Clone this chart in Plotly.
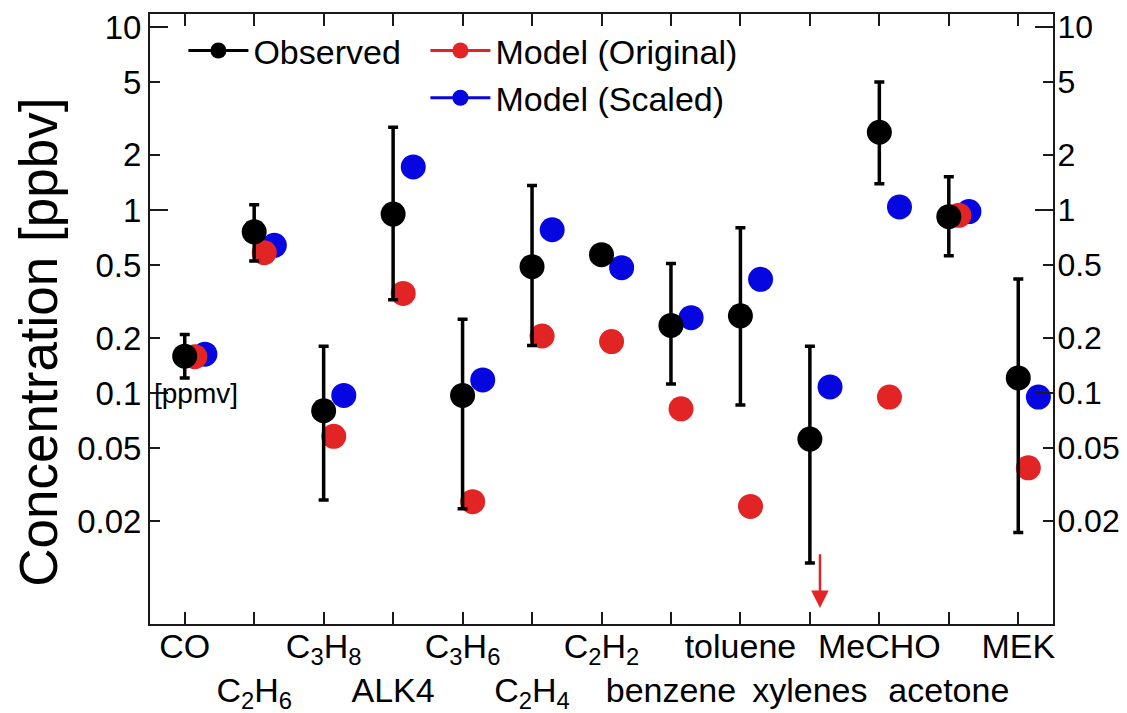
import math
import plotly.graph_objects as go

# ---------------- data ----------------
categories = ["CO", "C2H6", "C3H8", "ALK4", "C3H6", "C2H4", "C2H2",
              "benzene", "toluene", "xylenes", "MeCHO", "acetone", "MEK"]
tick_labels = ["CO", "C<sub>2</sub>H<sub>6</sub>", "C<sub>3</sub>H<sub>8</sub>", "ALK4",
               "C<sub>3</sub>H<sub>6</sub>", "C<sub>2</sub>H<sub>4</sub>", "C<sub>2</sub>H<sub>2</sub>",
               "benzene", "toluene", "xylenes", "MeCHO", "acetone", "MEK"]

observed = [0.159, 0.76, 0.080, 0.95, 0.097, 0.49, 0.57, 0.234, 0.264, 0.056, 2.66, 0.92, 0.121]
observed_hi = [0.209, 1.07, 0.18, 2.83, 0.253, 1.36, None, 0.51, 0.80, 0.18, 5.0, 1.52, 0.42]
observed_lo = [0.121, 0.527, 0.026, 0.323, 0.0233, 0.182, None, 0.112, 0.086, 0.0118, 1.39, 0.562, 0.0173]
model_original = [0.158, 0.585, 0.058, 0.35, 0.0255, 0.205, 0.191, 0.082, 0.024, None, 0.095, 0.935, 0.039]
model_scaled = [0.163, 0.641, 0.097, 1.72, 0.118, 0.78, 0.484, 0.258, 0.418, 0.108, 1.04, 0.98, 0.095]

# xylenes model (original) value is below the axis range: shown by an arrow
below_range_arrow = [0.0134, 0.0067]   # from, to (ppbv)

y_tick_vals = [0.02, 0.05, 0.1, 0.2, 0.5, 1, 2, 5, 10]
y_tick_text = ["0.02", "0.05", "0.1", "0.2", "0.5", "1", "2", "5", "10"]
y_decades = [0.1, 1, 10]

# ---------------- styling ----------------
FONT = "Liberation Sans, Arial, sans-serif"
RED = "#e32424"
BLUE = "#0606e0"
AXC = "#1a1a1a"
YRANGE = [-2.262, 1.071]
OFF_RED = 0.145
OFF_BLUE = 0.29
TF = 34

xi = list(range(len(categories)))
x_red = [i + OFF_RED for i in xi]
x_blue = [i + OFF_BLUE for i in xi]
err_plus = [None if h is None else h - o for h, o in zip(observed_hi, observed)]
err_minus = [None if l is None else o - l for l, o in zip(observed_lo, observed)]

fig = go.Figure()

fig.add_trace(go.Scatter(x=x_blue, y=model_scaled, mode="markers", showlegend=False,
                         marker=dict(color=BLUE, size=25), name="Model (Scaled)"))
fig.add_trace(go.Scatter(x=x_red, y=model_original, mode="markers", showlegend=False,
                         marker=dict(color=RED, size=25), name="Model (Original)"))
fig.add_trace(go.Scatter(x=xi, y=observed, mode="markers", showlegend=False,
                         marker=dict(color="black", size=25), name="Observed",
                         error_y=dict(type="data", symmetric=False, array=err_plus,
                                      arrayminus=err_minus, color="black",
                                      thickness=3.5, width=5)))

# legend entries
fig.add_trace(go.Scatter(x=[None], y=[None], mode="lines+markers", name="Observed",
                         marker=dict(color="black", size=22), line=dict(color="black", width=3),
                         legend="legend"))
fig.add_trace(go.Scatter(x=[None], y=[None], mode="lines+markers", name="Model (Original)",
                         marker=dict(color=RED, size=22), line=dict(color=RED, width=3),
                         legend="legend2"))
fig.add_trace(go.Scatter(x=[None], y=[None], mode="lines+markers", name="Model (Scaled)",
                         marker=dict(color=BLUE, size=22), line=dict(color=BLUE, width=3),
                         legend="legend2"))

# tick labels alternate between two rows
xtext = [t if i % 2 == 0 else "<br>" + t for i, t in enumerate(tick_labels)]

common_y = dict(type="log", range=YRANGE, showgrid=False, zeroline=False,
                ticks="inside", tickcolor=AXC, tickwidth=2, automargin=False,
                ticklabeloverflow="allow")

# the page body adds an 8 px offset, so the figure is 8 px smaller and margins shifted
fig.update_layout(
    width=1119, height=705,
    margin=dict(l=142, r=74, t=6, b=89),
    paper_bgcolor="white", plot_bgcolor="white",
    font=dict(family=FONT, size=TF, color="black"),
    xaxis=dict(range=[-0.5, 12.5], tickvals=xi, ticktext=xtext, showgrid=False,
               zeroline=False, showline=True, linecolor=AXC, linewidth=2, mirror="ticks",
               ticks="inside", ticklen=12, tickwidth=2, tickcolor=AXC, tickangle=0,
               automargin=False, tickfont=dict(size=TF), ticklabelstandoff=-9,
               ticklabeloverflow="allow"),
    yaxis=dict(**common_y, tickvals=y_tick_vals, ticktext=y_tick_text, ticklen=10,
               showline=True, linecolor=AXC, linewidth=2, side="left",
               tickfont=dict(size=33)),
    yaxis2=dict(**common_y, tickvals=y_tick_vals, ticktext=y_tick_text, ticklen=10,
                showline=True, linecolor=AXC, linewidth=2, side="right",
                overlaying="y", anchor="x", tickfont=dict(size=32), ticklabelstandoff=-4),
    yaxis3=dict(**common_y, tickvals=y_decades, ticklen=18, showticklabels=False,
                showline=False, side="left", overlaying="y", anchor="x"),
    yaxis4=dict(**common_y, tickvals=y_decades, ticklen=18, showticklabels=False,
                showline=False, side="right", overlaying="y", anchor="x"),
    legend=dict(x=0.037, y=0.987, xanchor="left", yanchor="top",
                bgcolor="rgba(0,0,0,0)", font=dict(size=TF), itemwidth=60,
                tracegroupgap=0),
    legend2=dict(x=0.305, y=0.987, xanchor="left", yanchor="top",
                 bgcolor="rgba(0,0,0,0)", font=dict(size=TF), itemwidth=60,
                 tracegroupgap=0),
)

# dummy traces to make the extra axes render
for ax in ["y2", "y3", "y4"]:
    fig.add_trace(go.Scatter(x=[None], y=[None], yaxis=ax, showlegend=False, hoverinfo="skip"))

fig.add_annotation(text="Concentration [ppbv]", xref="paper", yref="paper",
                   x=-0.1235, y=0.462, xanchor="center", yanchor="middle",
                   textangle=-90, showarrow=False, font=dict(size=53, family=FONT))

fig.add_annotation(text="[ppmv]", xref="x", yref="y", x=-0.47, y=math.log10(0.1),
                   xanchor="left", yanchor="middle", showarrow=False,
                   font=dict(size=28, family=FONT))

fig.add_annotation(text="", xref="x", yref="y", axref="x", ayref="y",
                   x=9 + OFF_RED, y=math.log10(below_range_arrow[1]),
                   ax=9 + OFF_RED, ay=math.log10(below_range_arrow[0]),
                   showarrow=True, arrowhead=2, arrowsize=1.4, arrowwidth=2.5,
                   arrowcolor=RED)

fig.write_html("out.html")
